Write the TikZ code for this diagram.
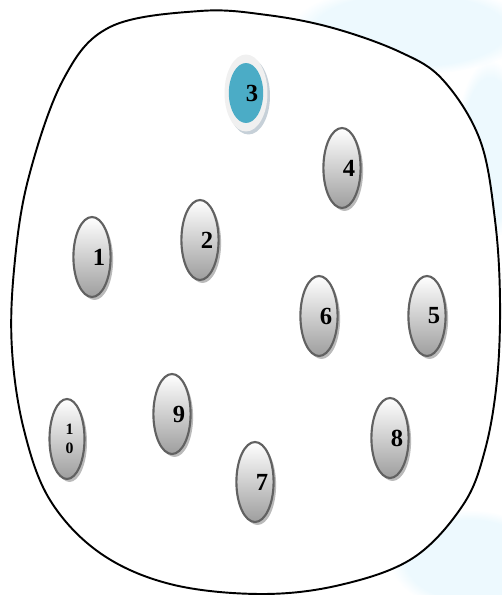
\documentclass[tikz,border=0pt]{standalone}
\usepackage{fontspec}
\setmainfont{Liberation Serif}
\usepackage{tikz}
\usetikzlibrary{shapes.geometric,shadows,positioning,fadings}
\definecolor{tealfill}{HTML}{4BACC6}
\definecolor{shadowblue}{HTML}{8FA3B3}

\begin{document}
\begin{tikzpicture}[x=0.02cm,y=-0.02cm,
	oval/.style={ellipse,draw=black!62,line width=1.2pt,top color=white,bottom color=black!38,
		minimum width=0.7cm,minimum height=1.6cm,inner sep=0pt,font=\fontsize{14}{16}\selectfont\bfseries,
		drop shadow={shadow xshift=0.05cm,shadow yshift=-0.06cm,fill=black!45,opacity=0.6}},
	haze/.style={fill=cyan!7,path fading=circle with fuzzy edge 20 percent},
	shifted/.style={execute at begin node={\hspace*{#1}}},
	shifted/.default=0.28cm]
				\useasboundingbox (0,0) rectangle (502,595);
				% faint background
				\fill[haze] (410,30) ellipse (120 and 45);
				\fill[haze] (490,150) ellipse (35 and 90);
				\fill[haze] (470,560) ellipse (80 and 50);
				% the blob
				\draw[black,line width=1.1pt,fill=white] plot[smooth cycle,tension=0.6] coordinates {
					(110,27) (200,11) (267,15) (333,28) (400,52) (443,80) (480,140) (495,220)
					(500,300) (497,380) (485,450) (463,505) (413,558) (340,585) (260,594)
					(170,584) (100,553) (50,500) (24,430) (12,350) (14,270) (28,180) (63,80)};
				% the nodes
				\node[oval,shifted] (n1) at (92,257) {1};
				\node[oval,shifted] (n2) at (200,240) {2};
				\node[ellipse,fill=black!6,minimum width=0.86cm,minimum height=1.54cm,
					drop shadow={shadow xshift=0.05cm,shadow yshift=-0.06cm,fill=shadowblue}] (n3) at (246,93) {};
				\node[ellipse,fill=tealfill,minimum width=0.56cm,minimum height=1.2cm,inner sep=0pt,
					font=\fontsize{14}{16}\selectfont\bfseries,shifted=0.24cm] (n3in) at (n3) {3};
				\node[oval,shifted] (n4) at (342,168) {4};
				\node[oval,shifted] (n5) at (427,316) {5};
				\node[oval,shifted] (n6) at (319,316) {6};
				\node[oval,shifted] (n7) at (255,482) {7};
				\node[oval,shifted] (n8) at (390,438) {8};
				\node[oval,shifted] (n9) at (172,414) {9};
				\node[oval,align=center,font=\fontsize{9}{10.8}\selectfont\bfseries,shifted=0.1cm] (n10) at (67,439) {1\\0};
			\end{tikzpicture}
\end{document}
